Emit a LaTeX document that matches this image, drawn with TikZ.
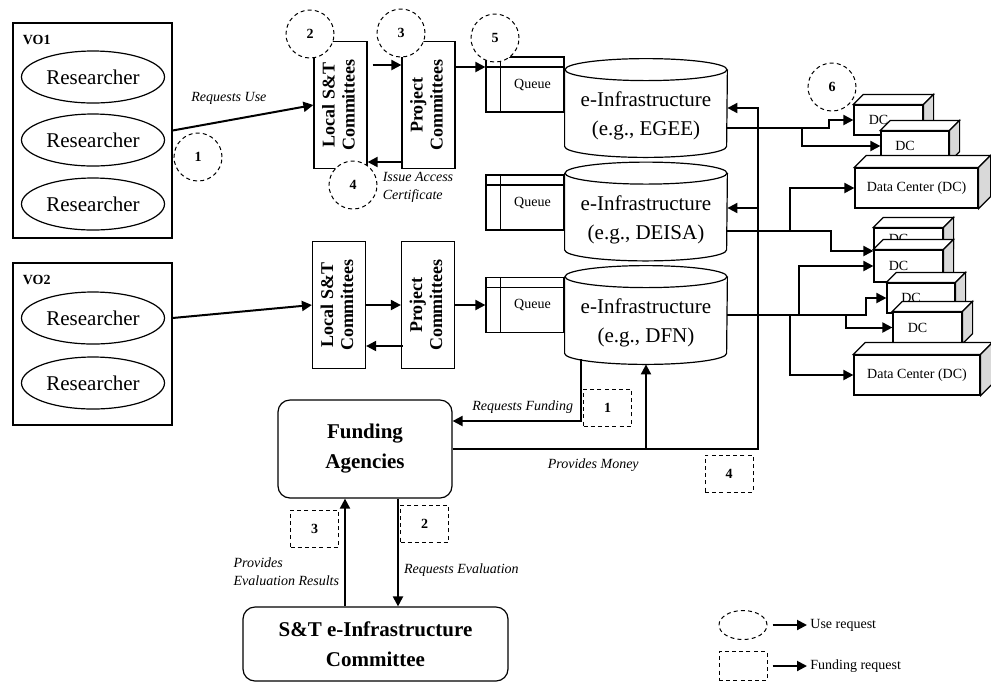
\documentclass[tikz,border=0pt]{standalone}
\usepackage{graphicx}
\usepackage{fontspec}
\setmainfont{Liberation Serif}
\usetikzlibrary{arrows.meta,shapes.geometric,positioning}

\newcommand{\uptext}[1]{\rotatebox{90}{\begin{tabular}{@{}c@{}}#1\end{tabular}}}

\tikzset{
  arr/.style={-{Triangle[length=5pt,width=5pt]},line width=1pt},
  frame/.style={draw,line width=0.6pt,inner sep=0pt},
  vlab/.style={anchor=north west,inner sep=0.5pt,font=\bfseries\fontsize{7}{8}\selectfont},
  researcher/.style={frame,ellipse,minimum width=71.5pt,minimum height=26pt,font=\fontsize{10.5}{12}\selectfont},
  comm/.style={frame,minimum width=26.5pt,minimum height=63.5pt,font=\bfseries\fontsize{9}{10}\selectfont},
  qtext/.style={xshift=3.75pt,inner sep=0pt,font=\fontsize{7}{8}\selectfont},
  queue/.style={frame,minimum width=39pt,minimum height=27.5pt,label={[qtext]center:Queue}},
  cylbody/.style={minimum width=81pt,minimum height=38pt,inner sep=0pt},
  cyltext/.style={align=center,font=\fontsize{10.5}{14.5}\selectfont},
  dc/.style={frame,fill=white},
  dctext/.style={inner sep=0pt,font=\fontsize{7}{8}\selectfont},
  agency/.style={frame,rounded corners=6pt,align=center,font=\bfseries\fontsize{10.5}{15}\selectfont},
  usecirc/.style={circle,draw,fill=white,dash pattern=on 2pt off 1.6pt,line width=0.5pt,
    minimum size=24pt,inner sep=0pt,font=\bfseries\fontsize{7}{8}\selectfont},
  fundsq/.style={draw,fill=white,dash pattern=on 2pt off 1.6pt,line width=0.5pt,
    minimum width=24pt,minimum height=18.5pt,inner sep=0pt,font=\bfseries\fontsize{7}{8}\selectfont},
  lbl/.style={inner sep=1.5pt,font=\itshape\fontsize{7}{9}\selectfont},
  legtext/.style={anchor=west,inner sep=1.5pt,font=\fontsize{7}{8}\selectfont}
}

\begin{document}
\begin{tikzpicture}[x=0.5pt,y=-0.5pt]
\useasboundingbox (0,0) rectangle (991,682);

% virtual organisations
\node[frame,minimum width=79.5pt,minimum height=107.5pt] (vo1) at (92.5,130.5) {};
\node[frame,minimum width=79.5pt,minimum height=81pt] (vo2) at (92.5,344) {};
\node[vlab] (vo1l) at ([shift={(4.5pt,-5.5pt)}]vo1.north west) {VO1};
\node[vlab] (vo2l) at ([shift={(4.5pt,-5.5pt)}]vo2.north west) {VO2};
\node[researcher] (r1) at (93,77) {Researcher};
\node[researcher] (r2) at (93,140) {Researcher};
\node[researcher] (r3) at (93,204) {Researcher};
\node[researcher] (r4) at (93,318) {Researcher};
\node[researcher] (r5) at (93,383) {Researcher};

% committees
\node[comm] (loc1) at (340.5,105) {\uptext{Local S\&T\\Committees}};
\node[comm] (proj1) at (428.5,105) {\uptext{Project\\Committees}};
\node[comm] (loc2) at (339,305) {\uptext{Local S\&T\\Committees}};
\node[comm] (proj2) at (428,305) {\uptext{Project\\Committees}};

% queues
\node[queue] (q1) at (525,84.5) {};
\node[queue] (q2) at (525,202.5) {};
\node[queue] (q3) at (525,305) {};
\foreach \q in {q1,q2,q3}{
  \draw[line width=0.6pt] ([yshift=-5.25pt]\q.north west) -- ([yshift=-5.25pt]\q.north east);
  \draw[line width=0.6pt] ([xshift=7.5pt]\q.north west) -- ([xshift=7.5pt]\q.south west);
}

% e-infrastructures
\node[cylbody] (cyl1) at (646,108) {};
\node[cylbody] (cyl2) at (646,211.5) {};
\node[cylbody] (cyl3) at (646,315) {};
\foreach \c in {cyl1,cyl2,cyl3}{
  \draw[line width=0.6pt] (\c.north west) -- (\c.south west)
    arc[start angle=180,end angle=360,x radius=40.5pt,y radius=5.5pt] -- (\c.north east);
  \draw[line width=0.6pt] (\c.north) ellipse[x radius=40.5pt,y radius=5.5pt];
}
\node[cyltext] (cyl1t) at ([yshift=-4pt]cyl1.center) {e-Infrastructure\\(e.g., EGEE)};
\node[cyltext] (cyl2t) at ([yshift=-4pt]cyl2.center) {e-Infrastructure\\(e.g., DEISA)};
\node[cyltext] (cyl3t) at ([yshift=-4pt]cyl3.center) {e-Infrastructure\\(e.g., DFN)};

% data centres, back to front
\foreach \nm/\px/\py/\boxw/\boxh/\dep/\lx/\ly/\tx in {
  dcA/888.5/120/34.5/15/5/-5/0/DC,
  dcB/915/146/34/15/5/-5/0/DC,
  dcL1/916.5/188/61.5/20/6/0/0/Data Center (DC),
  dcC/908.5/243/34.5/15/5/-5/2/DC,
  dcD/908.5/266/34.5/16/5/-5/0/DC,
  dcE/921/298/34/15/5/-5/0/DC,
  dcF/927.5/327.5/34.5/15.5/5/-5/0/DC,
  dcL2/917/375/63/20/6/0/0/Data Center (DC)}
{
  \node[dc,minimum width=\boxw pt,minimum height=\boxh pt,
    label={[dctext,xshift=\lx pt,yshift=\ly pt]center:\tx}] (\nm) at (\px,\py) {};
  \filldraw[fill=white,line width=0.6pt] (\nm.north west) -- ++(\dep pt,\dep pt)
    -- ([shift={(\dep pt,\dep pt)}]\nm.north east) -- (\nm.north east) -- cycle;
  \filldraw[fill=gray!30,line width=0.6pt] (\nm.north east) -- ++(\dep pt,\dep pt)
    -- ([shift={(\dep pt,\dep pt)}]\nm.south east) -- (\nm.south east) -- cycle;
}

% funding side
\node[agency,minimum width=87pt,minimum height=49pt] (fund) at (365,449) {Funding\\Agencies};
\node[agency,minimum width=132.5pt,minimum height=37pt] (stc) at (375.5,644) {S\&T e-Infrastructure\\Committee};

% step marks
\node[usecirc] (c1) at (198,157) {1};
\node[usecirc] (c2) at (310,34) {2};
\node[usecirc] (c3) at (401,33) {3};
\node[usecirc] (c4) at (353,185) {4};
\node[usecirc] (c5) at (495,38) {5};
\node[usecirc] (c6) at (832,87) {6};
\node[fundsq] (s1) at (607.5,407.5) {1};
\node[fundsq] (s2) at (424.5,523.5) {2};
\node[fundsq] (s3) at (314.5,528.5) {3};
\node[fundsq] (s4) at (729,473.5) {4};

% use requests
\draw[arr] (vo1.east) -- node[lbl,above=6pt,pos=0.4] (ru) {Requests Use} (loc1.west);
\draw[arr] (vo2.east |- r4) -- (loc2.west);
\draw[arr] ([shift={(2.5pt,20pt)}]loc1.east) -- ([yshift=20pt]proj1.west);
\draw[arr] ([shift={(1pt,-28.5pt)}]proj1.west) -- ([yshift=-28.5pt]loc1.east);
\draw[arr] (loc2.east) -- (proj2.west);
\draw[arr] ([shift={(1pt,-20.5pt)}]proj2.west) -- ([yshift=-20.5pt]loc2.east);
\draw[arr] ([yshift=19pt]proj1.east) -- ([yshift=8.75pt]q1.west);
\draw[arr] (proj2.east) -- (q3.west);
\node[lbl,align=left,anchor=north west] (iac) at ([xshift=-11pt]proj1.south west) {Issue Access\\Certificate};

% jobs to data centres
\coordinate (o1) at ([yshift=-10pt]cyl1.east);
\coordinate (o2) at ([yshift=-9.75pt]cyl2.east);
\coordinate (o3) at (cyl3.east);
\draw[arr] (o1) -| ([xshift=-12pt]dcA.west) -- (dcA.west);
\draw[arr] (o1) -| ([xshift=-39pt]dcB.west) -- (dcB.west);
\draw[arr] (o2) -| ([xshift=-32pt]dcL1.west) -- (dcL1.west);
\draw[arr] (o2) -| ([shift={(-21pt,-4pt)}]dcC.west) -- ([yshift=-4pt]dcC.west);
\draw[arr] (o3) -| ([xshift=-37pt]dcD.west) -- (dcD.west);
\draw[arr] (o3) -| ([xshift=-31.5pt]dcL2.west) -- (dcL2.west);
\draw[arr] (o3) -| ([xshift=-10pt]dcE.west) -- (dcE.west);
\draw[arr] (o3) -| ([xshift=-23pt]dcF.west) -- (dcF.west);

% funding requests
\draw[arr] ([shift={(-32.5pt,-3pt)}]cyl3.south) |- node[lbl,anchor=south east,pos=0.5,xshift=-2pt,yshift=2pt] (rf) {Requests Funding} ([yshift=14pt]fund.east);
\coordinate (busT) at ([xshift=15.5pt]cyl1.east);
\coordinate (bus) at (busT |- fund.east);
\draw[arr] (fund.east) -- node[lbl,below=3pt,pos=0.46] (pm) {Provides Money} (bus) |- (cyl1.east);
\draw[arr] (bus) |- ([yshift=1.75pt]cyl2.east);
\draw[arr] (fund.east -| cyl3.south) -- ([yshift=-5.5pt]cyl3.south);
\coordinate (fr) at ([xshift=16.5pt]fund.south);
\coordinate (fl) at ([xshift=-10pt]fund.south);
\draw[arr] (fr) -- node[lbl,right=1pt,pos=0.66] (re) {Requests Evaluation} (fr |- stc.north);
\draw[arr] (fl |- stc.north) -- node[lbl,left=1pt,align=left,pos=0.32] (pe) {Provides\\Evaluation Results} (fl);

% legend
\node[ellipse,draw,dash pattern=on 2pt off 1.6pt,line width=0.5pt,minimum width=24pt,minimum height=14.5pt] (lg1) at (743,625) {};
\node[fundsq,minimum height=14.5pt] (lg2) at (743,666) {};
\node[legtext] (lt1) at (807,625) {Use request};
\node[legtext] (lt2) at (807,666) {Funding request};
\draw[arr] ([xshift=2.5pt]lg1.east) -- (lt1.west);
\draw[arr] ([xshift=2.5pt]lg2.east) -- (lt2.west);
\end{tikzpicture}
\end{document}
